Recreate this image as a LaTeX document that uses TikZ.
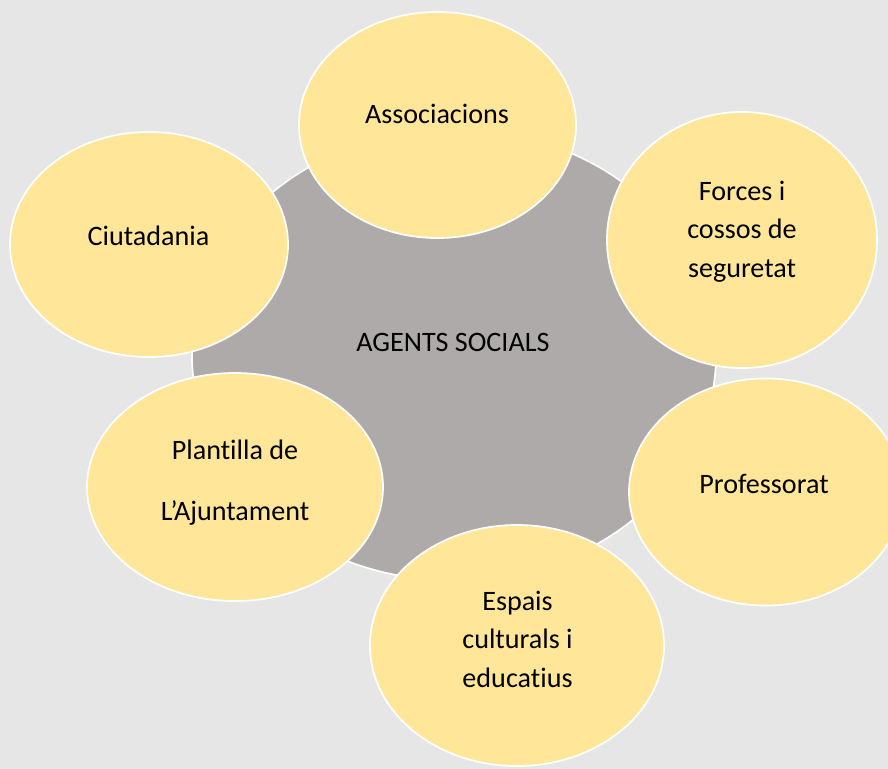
\documentclass[tikz,border=0pt]{standalone}
\usepackage{fontspec}
\setmainfont{Carlito}[Ligatures={NoCommon,NoContextual}]
\usetikzlibrary{shapes.geometric}
\definecolor{fonsgris}{HTML}{E7E6E6}
\definecolor{centregris}{HTML}{AEAAAA}
\definecolor{groc}{HTML}{FFE699}

\begin{document}
\begin{tikzpicture}[x=0.025cm, y=-0.025cm,
        bubble/.style={ellipse, draw=white, line width=1.2pt, fill=groc, inner sep=0pt},
        lbl/.style={font=\fontsize{20}{27.4}\selectfont, align=center, inner sep=0pt}]
            \useasboundingbox (0, 0) rectangle (888, 769);
            \clip (0, 0) rectangle (888, 769);
            \fill [fonsgris] (0, 0) rectangle (888, 769);

            % centre
            \node [bubble, fill=centregris, minimum width=13.1cm, minimum height=11.275cm] (agents) at (454, 355) {};
            \node [lbl] (agents-txt) at (453, 342.7) {AGENTS SOCIALS};

            % agents around the centre
            \foreach \name/\x/\y/\w/\h in {assoc/437.5/125/6.925/5.65, ciut/149/244.5/6.95/5.625,
                    forces/742/240/6.75/6.4, prof/766/492/6.85/5.675,
                    plant/235/487/7.4/5.7, espais/517/645.5/7.35/6.025}{
                \node [bubble, minimum width=\w cm, minimum height=\h cm] (\name) at (\x, \y) {};
            }

            \node [lbl] (assoc-txt) at (437, 114) {Associacions};
            \node [lbl] (ciut-txt) at (148.5, 236.3) {Ciutadania};
            \node [lbl] (forces-txt) at (742, 231.5) {Forces i\\cossos de\\seguretat};
            \node [lbl] (prof-txt) at (764, 483.6) {Professorat};
            \node [lbl, font=\fontsize{20}{43.4}\selectfont] (plant-txt) at (235, 482.6) {Plantilla de\\L’Ajuntament};
            \node [lbl] (espais-txt) at (517.5, 639) {Espais\\culturals i\\educatius};
        \end{tikzpicture}
\end{document}
